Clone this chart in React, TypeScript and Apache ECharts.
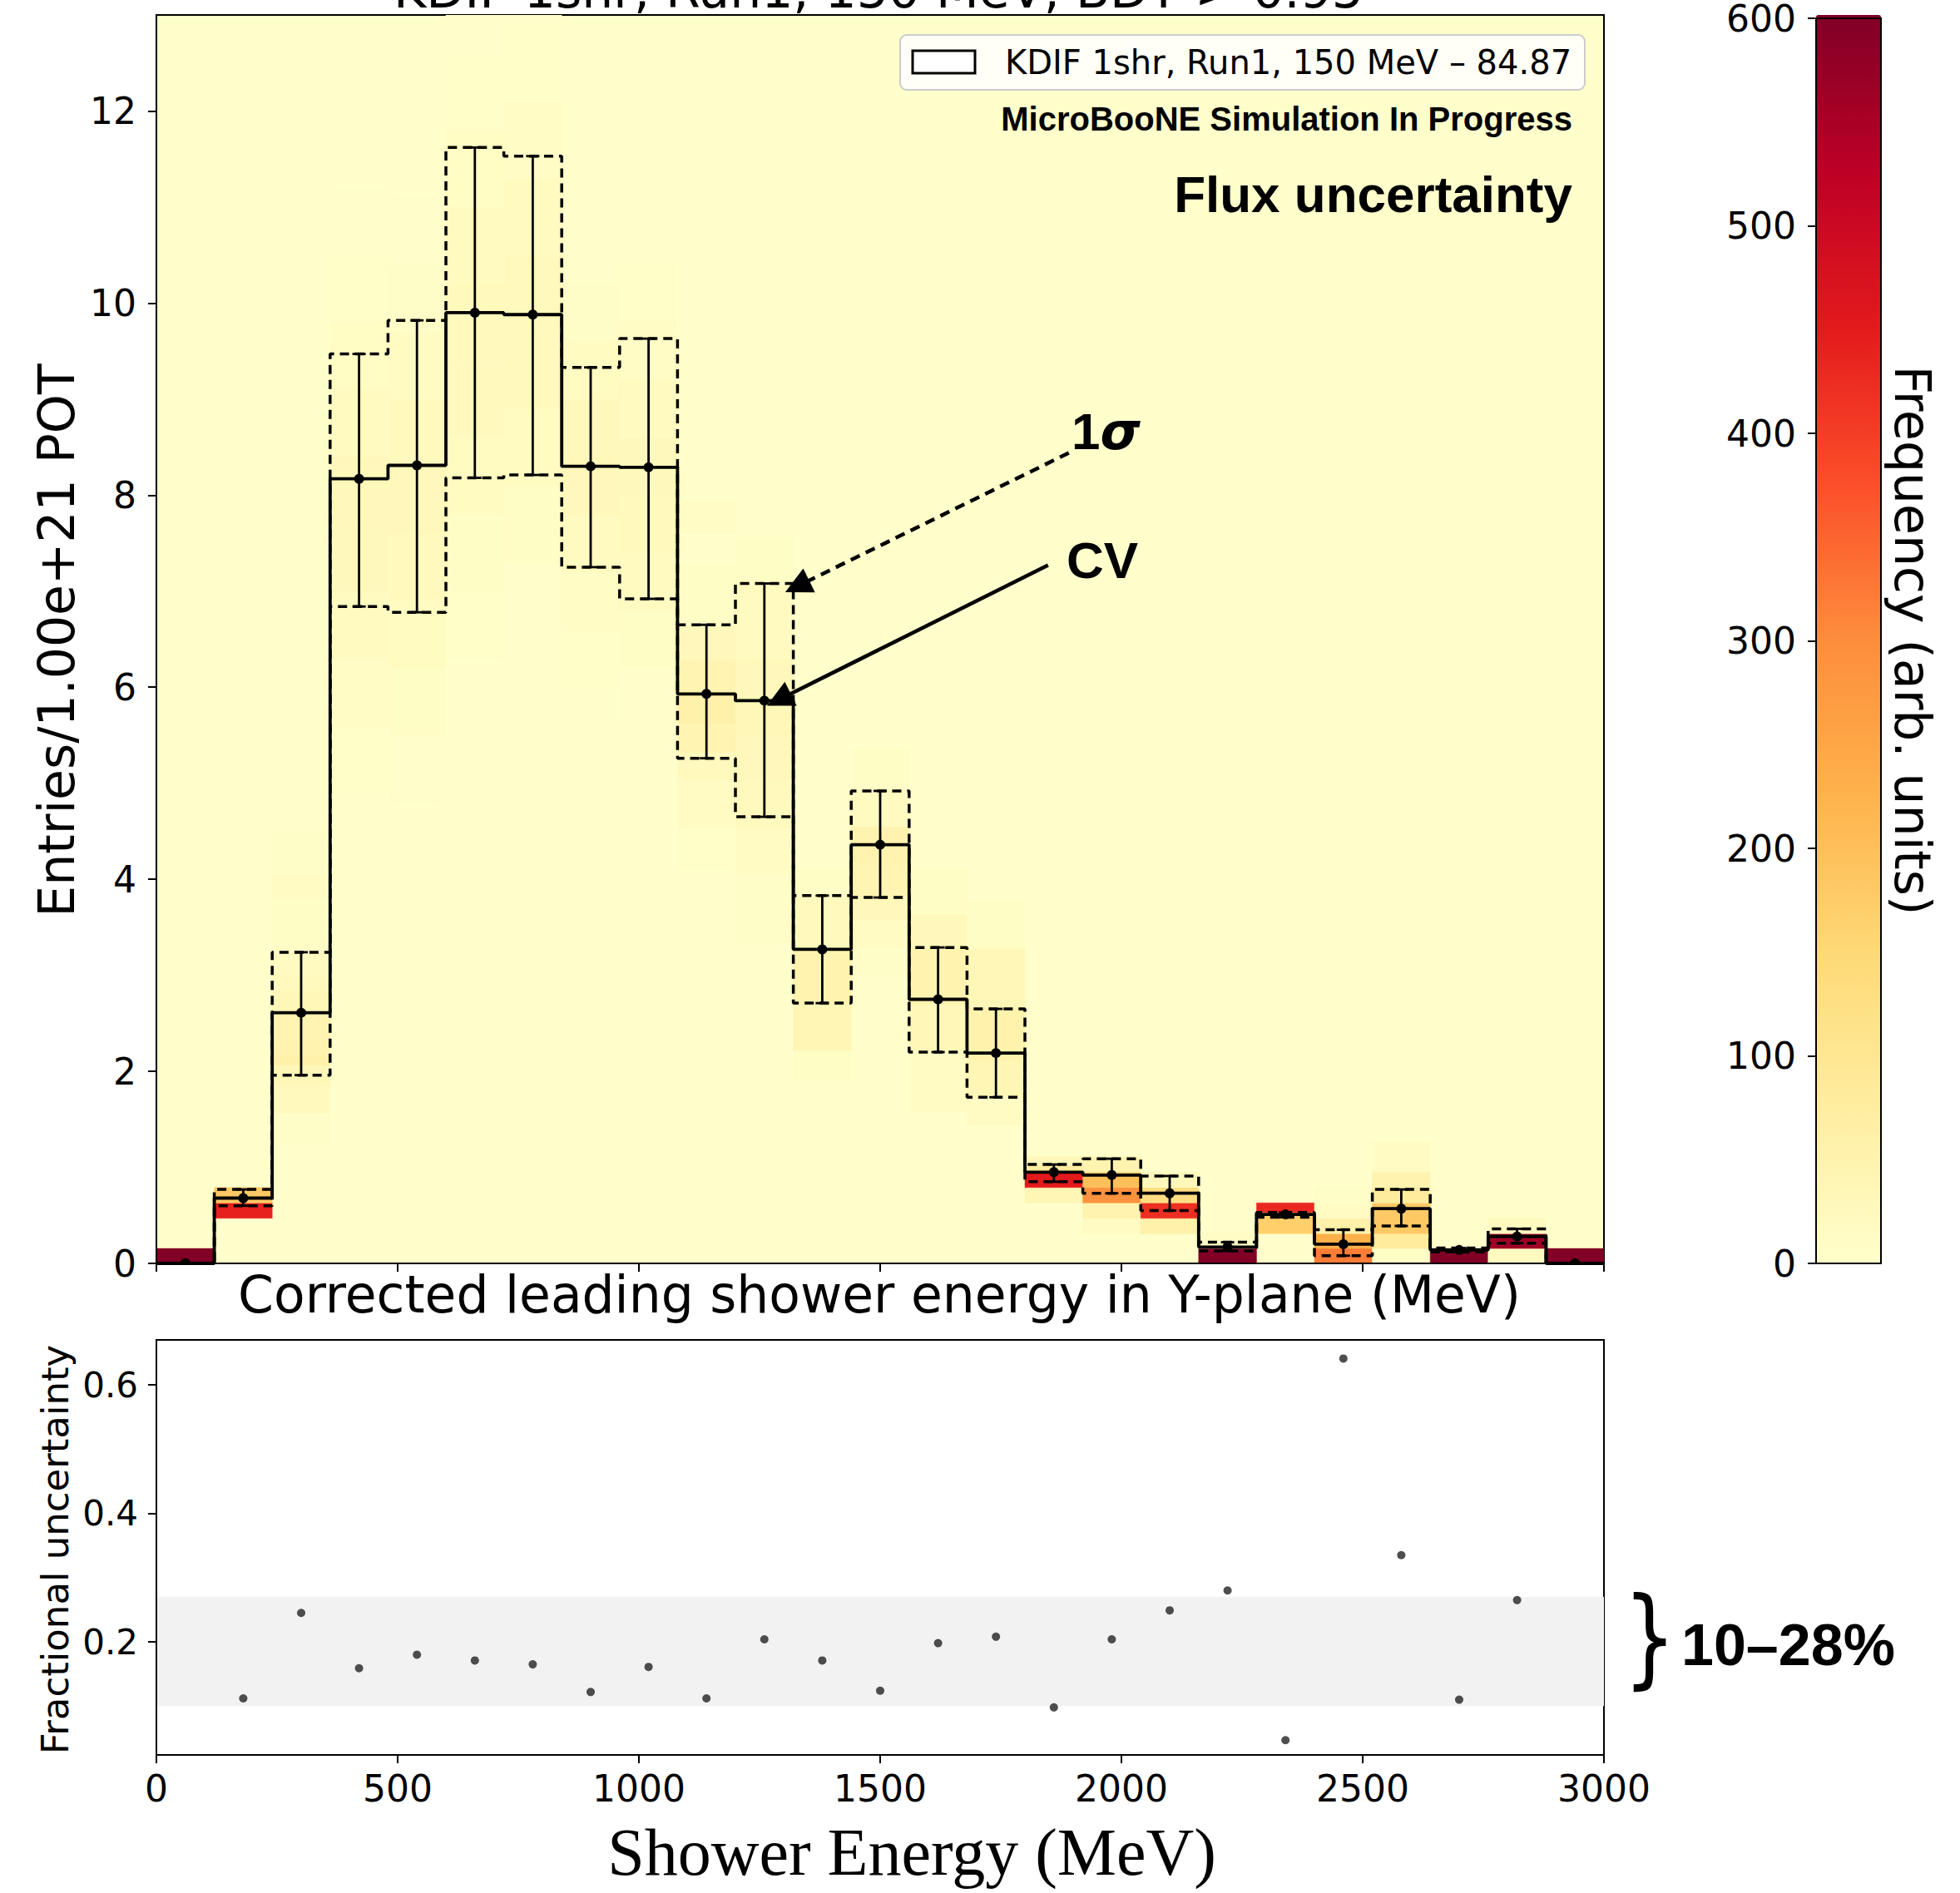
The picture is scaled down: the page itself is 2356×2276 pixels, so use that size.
import React, { useEffect, useRef } from "react";
import * as echarts from "echarts";

// ---------- data ----------
const BIN_EDGES = [0, 120, 240, 360, 480, 600, 720, 840, 960, 1080, 1200, 1320, 1440, 1560, 1680, 1800, 1920, 2040, 2160, 2280, 2400, 2520, 2640, 2760, 2880, 3000];
const CV = [0, 0.68, 2.61, 8.17, 8.31, 9.9, 9.88, 8.3, 8.29, 5.93, 5.86, 3.27, 4.36, 2.75, 2.19, 0.95, 0.92, 0.73, 0.17, 0.51, 0.2, 0.57, 0.14, 0.28, 0];
const SIGMA_UP = [0, 0.77, 3.24, 9.47, 9.82, 11.62, 11.53, 9.33, 9.63, 6.65, 7.08, 3.83, 4.92, 3.29, 2.65, 1.03, 1.09, 0.91, 0.22, 0.53, 0.35, 0.77, 0.16, 0.36, 0];
const SIGMA_DN = [0, 0.6, 1.96, 6.84, 6.78, 8.18, 8.21, 7.25, 6.92, 5.26, 4.65, 2.71, 3.81, 2.2, 1.73, 0.85, 0.73, 0.55, 0.13, 0.48, 0.08, 0.39, 0.12, 0.21, 0];

const FRAC_E = [180, 300, 420, 540, 660, 780, 900, 1020, 1140, 1260, 1380, 1500, 1620, 1740, 1860, 1980, 2100, 2220, 2340, 2460, 2580, 2700, 2820];
const FRAC = [0.112, 0.245, 0.159, 0.18, 0.171, 0.165, 0.122, 0.161, 0.112, 0.204, 0.171, 0.124, 0.198, 0.208, 0.098, 0.204, 0.249, 0.28, 0.047, 0.641, 0.335, 0.11, 0.265];
const BAND = [0.1, 0.27];

const Y_TICKS = [0, 2, 4, 6, 8, 10, 12];
const X_TICKS = [0, 500, 1000, 1500, 2000, 2500, 3000];
const FRAC_TICKS = [0.2, 0.4, 0.6];
const CBAR_TICKS = [0, 100, 200, 300, 400, 500, 600];

const YLORRD = ["#ffffcc", "#ffeda0", "#fed976", "#feb24c", "#fd8d3c", "#fc4e2a", "#e31a1c", "#bd0026", "#800026"];

// heat-map cells: [bin index, y low, y high, frequency]
const HEAT_CELLS = [
  [0, 0, 0.155, 600],
  [1, 0.47, 0.63, 440], [1, 0.63, 0.79, 180],
  [2, 1.25, 1.57, 8], [2, 1.57, 1.86, 25], [2, 1.86, 2.06, 35], [2, 2.06, 2.17, 60], [2, 2.17, 2.35, 50], [2, 2.35, 2.61, 45], [2, 2.61, 2.84, 35], [2, 2.84, 3.0, 25], [2, 3.0, 3.24, 20], [2, 3.24, 3.79, 10], [2, 3.79, 4.05, 15], [2, 4.05, 4.5, 8],
  [3, 4.9, 5.6, 5], [3, 5.6, 6.3, 12], [3, 6.3, 7.0, 20], [3, 7.0, 7.7, 28], [3, 7.7, 8.4, 30], [3, 8.4, 9.1, 22], [3, 9.1, 9.8, 14], [3, 9.8, 10.5, 7], [3, 10.5, 11.2, 3],
  [4, 4.8, 5.5, 4], [4, 5.5, 6.2, 10], [4, 6.2, 6.9, 18], [4, 6.9, 7.6, 26], [4, 7.6, 8.3, 30], [4, 8.3, 9.0, 25], [4, 9.0, 9.7, 15], [4, 9.7, 10.4, 8], [4, 10.4, 11.1, 4],
  [5, 6.3, 7.0, 5], [5, 7.0, 7.8, 10], [5, 7.8, 8.6, 18], [5, 8.6, 9.4, 25], [5, 9.4, 10.2, 27], [5, 10.2, 11.0, 22], [5, 11.0, 11.8, 14], [5, 11.8, 12.6, 7], [5, 12.6, 13.4, 3],
  [6, 6.5, 7.3, 4], [6, 7.3, 8.1, 10], [6, 8.1, 8.9, 18], [6, 8.9, 9.7, 26], [6, 9.7, 10.5, 27], [6, 10.5, 11.3, 20], [6, 11.3, 12.1, 12], [6, 12.1, 12.9, 6], [6, 12.9, 13.7, 4],
  [7, 6.0, 6.6, 5], [7, 6.6, 7.2, 12], [7, 7.2, 7.8, 22], [7, 7.8, 8.4, 30], [7, 8.4, 9.0, 28], [7, 9.0, 9.6, 18], [7, 9.6, 10.2, 8], [7, 10.2, 10.8, 3],
  [8, 5.6, 6.2, 4], [8, 6.2, 6.8, 10], [8, 6.8, 7.4, 20], [8, 7.4, 8.0, 27], [8, 8.0, 8.6, 28], [8, 8.6, 9.2, 22], [8, 9.2, 9.8, 12], [8, 9.8, 10.4, 5],
  [9, 4.11, 4.54, 5], [9, 4.54, 5.03, 15], [9, 5.03, 5.32, 25], [9, 5.32, 5.62, 45], [9, 5.62, 5.96, 60], [9, 5.96, 6.29, 45], [9, 6.29, 6.64, 30], [9, 6.64, 7.3, 10], [9, 7.6, 7.95, 12],
  [10, 3.33, 4.06, 8], [10, 4.06, 4.54, 15], [10, 4.54, 5.03, 25], [10, 5.03, 5.52, 30], [10, 5.52, 5.9, 35], [10, 5.9, 6.29, 30], [10, 6.29, 7.07, 20], [10, 7.07, 7.56, 10],
  [11, 1.9, 2.22, 10], [11, 2.22, 2.7, 40], [11, 2.7, 3.28, 50], [11, 3.28, 3.82, 25], [11, 3.82, 4.11, 10],
  [12, 3.0, 3.28, 8], [12, 3.28, 3.58, 15], [12, 3.58, 3.82, 30], [12, 3.82, 4.16, 45], [12, 4.16, 4.55, 50], [12, 4.55, 4.93, 20], [12, 4.93, 5.35, 10],
  [13, 1.58, 2.22, 15], [13, 2.22, 2.7, 35], [13, 2.7, 3.28, 50], [13, 3.28, 3.63, 30], [13, 3.63, 4.11, 10],
  [14, 1.44, 1.73, 15], [14, 1.73, 2.12, 40], [14, 2.12, 2.66, 55], [14, 2.66, 3.28, 35], [14, 3.28, 3.79, 10],
  [15, 0.63, 0.79, 40], [15, 0.79, 0.96, 450], [15, 0.96, 1.02, 80], [15, 1.02, 1.11, 30],
  [16, 0.31, 0.47, 15], [16, 0.47, 0.63, 50], [16, 0.63, 0.79, 290], [16, 0.79, 0.95, 200], [16, 0.95, 1.11, 50],
  [17, 0.31, 0.47, 60], [17, 0.47, 0.63, 420], [17, 0.63, 0.79, 130], [17, 0.79, 0.95, 30],
  [18, 0, 0.155, 600], [18, 0.155, 0.32, 12],
  [19, 0.31, 0.53, 170], [19, 0.53, 0.63, 430],
  [20, 0, 0.155, 320], [20, 0.155, 0.31, 230], [20, 0.31, 0.47, 60], [20, 0.47, 0.63, 15], [20, 0.63, 0.79, 8],
  [21, 0, 0.155, 10], [21, 0.155, 0.31, 80], [21, 0.31, 0.63, 180], [21, 0.63, 0.79, 80], [21, 0.79, 0.95, 50], [21, 0.95, 1.26, 15],
  [22, 0, 0.155, 600],
  [23, 0, 0.155, 20], [23, 0.155, 0.31, 560], [23, 0.31, 0.47, 20],
  [24, 0, 0.155, 600],
];

const TITLE = "KDIF 1shr, Run1, 150 MeV, BDT > 0.95";
const LEGEND_LABEL = "KDIF 1shr, Run1, 150 MeV \u2013 84.87";

// ---------- helpers ----------
const stepData = (vals: number[]) => {
  const out: number[][] = vals.map((v, i) => [BIN_EDGES[i], v]);
  out.push([BIN_EDGES[BIN_EDGES.length - 1], vals[vals.length - 1]]);
  return out;
};

const SANS = "DejaVu Sans";
const BOLD = "Liberation Sans";
const plain = (v: number) => String(v);

export default function App() {
  const ref = useRef<HTMLDivElement>(null);

  useEffect(() => {
    if (!ref.current) return;
    const chart = echarts.init(ref.current, null, { renderer: "svg" });

    const heatData = HEAT_CELLS.map(([b, lo, hi, f]) => [BIN_EDGES[b], BIN_EDGES[b + 1], lo, hi, f]);
    const errData = CV.map((v, i) => [(BIN_EDGES[i] + BIN_EDGES[i + 1]) / 2, v, SIGMA_DN[i], SIGMA_UP[i]]);
    const fracData = FRAC_E.map((e, i) => [e, FRAC[i]]);

    const axisLineStyle = { color: "#000", width: 2 };

    const option: any = {
      animation: false,
      backgroundColor: "#ffffff",
      grid: [
        { left: 188, top: 18, width: 1740, height: 1501, show: true, backgroundColor: "#ffffcc", borderColor: "#000", borderWidth: 2 },
        { left: 188, top: 1611, width: 1740, height: 499, show: true, backgroundColor: "#ffffff", borderColor: "#000", borderWidth: 2 },
        { left: 2183, top: 18, width: 78, height: 1501, show: true, backgroundColor: "transparent", borderColor: "#000", borderWidth: 2, z: 10 },
      ],
      xAxis: [
        {
          gridIndex: 0, type: "value", min: 0, max: 3000, interval: 500, z: 10,
          axisLine: { show: true, lineStyle: axisLineStyle },
          axisTick: { show: true, inside: false, length: 10, lineStyle: axisLineStyle, customValues: X_TICKS },
          axisLabel: { show: false },
          splitLine: { show: false },
        },
        {
          gridIndex: 1, type: "value", min: 0, max: 3000, interval: 500, z: 10,
          axisLine: { show: true, lineStyle: axisLineStyle },
          axisTick: { show: true, length: 10, lineStyle: axisLineStyle, customValues: X_TICKS },
          axisLabel: { show: true, fontSize: 44, color: "#000", fontFamily: SANS, margin: 18, customValues: X_TICKS, formatter: plain },
          splitLine: { show: false },
        },
        { gridIndex: 2, type: "value", min: 0, max: 1, show: false },
      ],
      yAxis: [
        {
          gridIndex: 0, type: "value", min: 0, max: 13, z: 10,
          axisLine: { show: true, lineStyle: axisLineStyle },
          axisTick: { show: true, length: 10, lineStyle: axisLineStyle, customValues: Y_TICKS },
          axisLabel: { show: true, fontSize: 44, color: "#000", fontFamily: SANS, margin: 24, customValues: Y_TICKS, formatter: plain },
          splitLine: { show: false },
        },
        {
          gridIndex: 1, type: "value", min: 0.024, max: 0.67, z: 10,
          axisLine: { show: true, lineStyle: axisLineStyle },
          axisTick: { show: true, length: 10, lineStyle: axisLineStyle, customValues: FRAC_TICKS },
          axisLabel: { show: true, fontSize: 42, color: "#000", fontFamily: SANS, margin: 22, customValues: FRAC_TICKS, formatter: plain },
          splitLine: { show: false },
        },
        {
          gridIndex: 2, type: "value", min: 0, max: 600, interval: 100, position: "left", z: 12,
          axisLine: { show: true, lineStyle: axisLineStyle },
          axisTick: { show: true, length: 10, lineStyle: axisLineStyle, customValues: CBAR_TICKS },
          axisLabel: { show: true, fontSize: 44, color: "#000", fontFamily: SANS, margin: 24, customValues: CBAR_TICKS, formatter: plain },
          splitLine: { show: false },
        },
      ],
      visualMap: {
        type: "continuous",
        min: 0,
        max: 600,
        seriesIndex: [0],
        dimension: 4,
        inRange: { color: YLORRD },
        left: 2183,
        top: 18,
        itemWidth: 78,
        itemHeight: 1501,
        padding: 0,
        calculable: false,
        hoverLink: false,
        showLabel: false,
        orient: "vertical",
      },
      series: [
        {
          type: "custom",
          name: "heat",
          xAxisIndex: 0,
          yAxisIndex: 0,
          clip: true,
          z: 1,
          encode: { x: [0, 1], y: [2, 3] },
          data: heatData,
          renderItem: (params: any, api: any) => {
            const p0 = api.coord([api.value(0), api.value(3)]);
            const p1 = api.coord([api.value(1), api.value(2)]);
            const c = api.visual("color");
            return {
              type: "rect",
              shape: { x: p0[0], y: p0[1], width: p1[0] - p0[0], height: p1[1] - p0[1] },
              style: { fill: c, stroke: c, lineWidth: 0.5 },
            };
          },
        },
        {
          type: "line", name: "sigma_up", xAxisIndex: 0, yAxisIndex: 0, step: "end", symbol: "none", z: 5,
          lineStyle: { color: "#000", width: 3.5, type: [11, 7] }, data: stepData(SIGMA_UP),
        },
        {
          type: "line", name: "sigma_dn", xAxisIndex: 0, yAxisIndex: 0, step: "end", symbol: "none", z: 5,
          lineStyle: { color: "#000", width: 3.5, type: [11, 7] }, data: stepData(SIGMA_DN),
        },
        {
          type: "line", name: LEGEND_LABEL, xAxisIndex: 0, yAxisIndex: 0, step: "end", symbol: "none", z: 6,
          lineStyle: { color: "#000", width: 3.8 }, data: stepData(CV),
          markLine: {
            silent: true,
            symbol: ["none", "triangle"],
            symbolSize: 32,
            label: { show: false },
            data: [
              [
                { coord: [1891, 8.44], lineStyle: { type: [12, 8], width: 4.5, color: "#000" } },
                { coord: [1328, 7.05] },
              ],
              [
                { coord: [1848, 7.27], lineStyle: { type: "solid", width: 4.5, color: "#000" } },
                { coord: [1290, 5.87] },
              ],
            ],
          },
        },
        {
          type: "custom",
          name: "errors",
          xAxisIndex: 0,
          yAxisIndex: 0,
          clip: true,
          z: 7,
          encode: { x: 0, y: [1, 2, 3] },
          data: errData,
          renderItem: (params: any, api: any) => {
            const x = api.value(0);
            const pc = api.coord([x, api.value(1)]);
            const pl = api.coord([x, api.value(2)]);
            const ph = api.coord([x, api.value(3)]);
            const cap = 8;
            const ls = { stroke: "#000", lineWidth: 2.8 };
            return {
              type: "group",
              children: [
                { type: "line", shape: { x1: pc[0], y1: pl[1], x2: pc[0], y2: ph[1] }, style: ls },
                { type: "line", shape: { x1: pc[0] - cap, y1: pl[1], x2: pc[0] + cap, y2: pl[1] }, style: ls },
                { type: "line", shape: { x1: pc[0] - cap, y1: ph[1], x2: pc[0] + cap, y2: ph[1] }, style: ls },
                { type: "circle", shape: { cx: pc[0], cy: pc[1], r: 6 }, style: { fill: "#000" } },
              ],
            };
          },
        },
        {
          type: "scatter",
          name: "fractional",
          xAxisIndex: 1,
          yAxisIndex: 1,
          symbolSize: 10,
          itemStyle: { color: "#222" },
          z: 5,
          data: fracData,
          markArea: {
            silent: true,
            itemStyle: { color: "#f2f2f2" },
            data: [[{ yAxis: BAND[0] }, { yAxis: BAND[1] }]],
          },
        },
        { type: "scatter", name: "cbar", xAxisIndex: 2, yAxisIndex: 2, data: [] },
      ],
      graphic: [
        // title (cut at the top of the figure, as in the reference)
        { type: "text", x: 1056, y: -12, style: { text: TITLE, fontSize: 60, fontFamily: SANS, fill: "#000", align: "center", verticalAlign: "middle" } },
        // legend box
        {
          type: "group", z: 50,
          children: [
            { type: "rect", shape: { x: 1082, y: 42, width: 823, height: 66, r: 8 }, style: { fill: "rgba(255,255,255,0.85)", stroke: "#cccccc", lineWidth: 2 } },
            { type: "rect", shape: { x: 1097, y: 61, width: 75, height: 27 }, style: { fill: "#ffffff", stroke: "#000", lineWidth: 3 } },
            { type: "text", x: 1208, y: 75, style: { text: LEGEND_LABEL, fontSize: 40, fontFamily: SANS, fill: "#000", align: "left", verticalAlign: "middle" } },
          ],
        },
        { type: "text", z: 50, x: 1890, y: 143, style: { text: "MicroBooNE Simulation In Progress", fontSize: 40, fontWeight: "bold", fontFamily: BOLD, fill: "#000", align: "right", verticalAlign: "middle" } },
        { type: "text", z: 50, x: 1890, y: 233, style: { text: "Flux uncertainty", fontSize: 62, fontWeight: "bold", fontFamily: BOLD, fill: "#000", align: "right", verticalAlign: "middle" } },
        {
          type: "text", z: 50, x: 1288, y: 518,
          style: {
            text: "{a|1}{b|\u03c3}", align: "left", verticalAlign: "middle",
            rich: {
              a: { fontSize: 62, fontWeight: "bold", fontFamily: BOLD, fill: "#000" },
              b: { fontSize: 62, fontWeight: "bold", fontStyle: "italic", fontFamily: "DejaVu Sans", fill: "#000" },
            },
          },
        },
        { type: "text", z: 50, x: 1282, y: 673, style: { text: "CV", fontSize: 62, fontWeight: "bold", fontFamily: BOLD, fill: "#000", align: "left", verticalAlign: "middle" } },
        // axis titles
        { type: "text", x: 68, y: 770, rotation: Math.PI / 2, style: { text: "Entries/1.00e+21 POT", fontSize: 60, fontFamily: SANS, fill: "#000", align: "center", verticalAlign: "middle" } },
        { type: "text", x: 1057, y: 1557, style: { text: "Corrected leading shower energy in Y-plane (MeV)", fontSize: 61.5, fontFamily: SANS, fill: "#000", align: "center", verticalAlign: "middle" } },
        { type: "text", x: 2299, y: 770, rotation: -Math.PI / 2, style: { text: "Frequency (arb. units)", fontSize: 60, fontFamily: SANS, fill: "#000", align: "center", verticalAlign: "middle" } },
        { type: "text", x: 66, y: 1863, rotation: Math.PI / 2, style: { text: "Fractional uncertainty", fontSize: 45, fontFamily: SANS, fill: "#000", align: "center", verticalAlign: "middle" } },
        { type: "text", x: 1096, y: 2227, style: { text: "Shower Energy (MeV)", fontSize: 80, fontFamily: "Liberation Serif", fill: "#000", align: "center", verticalAlign: "middle" } },
        // band annotation
        { type: "text", x: 1983, y: 1968, scaleY: 1.3, style: { text: "}", fontSize: 100, fontFamily: SANS, fill: "#000", align: "center", verticalAlign: "middle" } },
        { type: "text", x: 2021, y: 1978, style: { text: "10\u201328%", fontSize: 70, fontWeight: "bold", fontFamily: BOLD, fill: "#000", align: "left", verticalAlign: "middle" } },
      ],
    };

    chart.setOption(option);
    return () => chart.dispose();
  }, []);

  return <div ref={ref} style={{ position: "absolute", left: 0, top: 0, width: 2356, height: 2276 }} />;
}
